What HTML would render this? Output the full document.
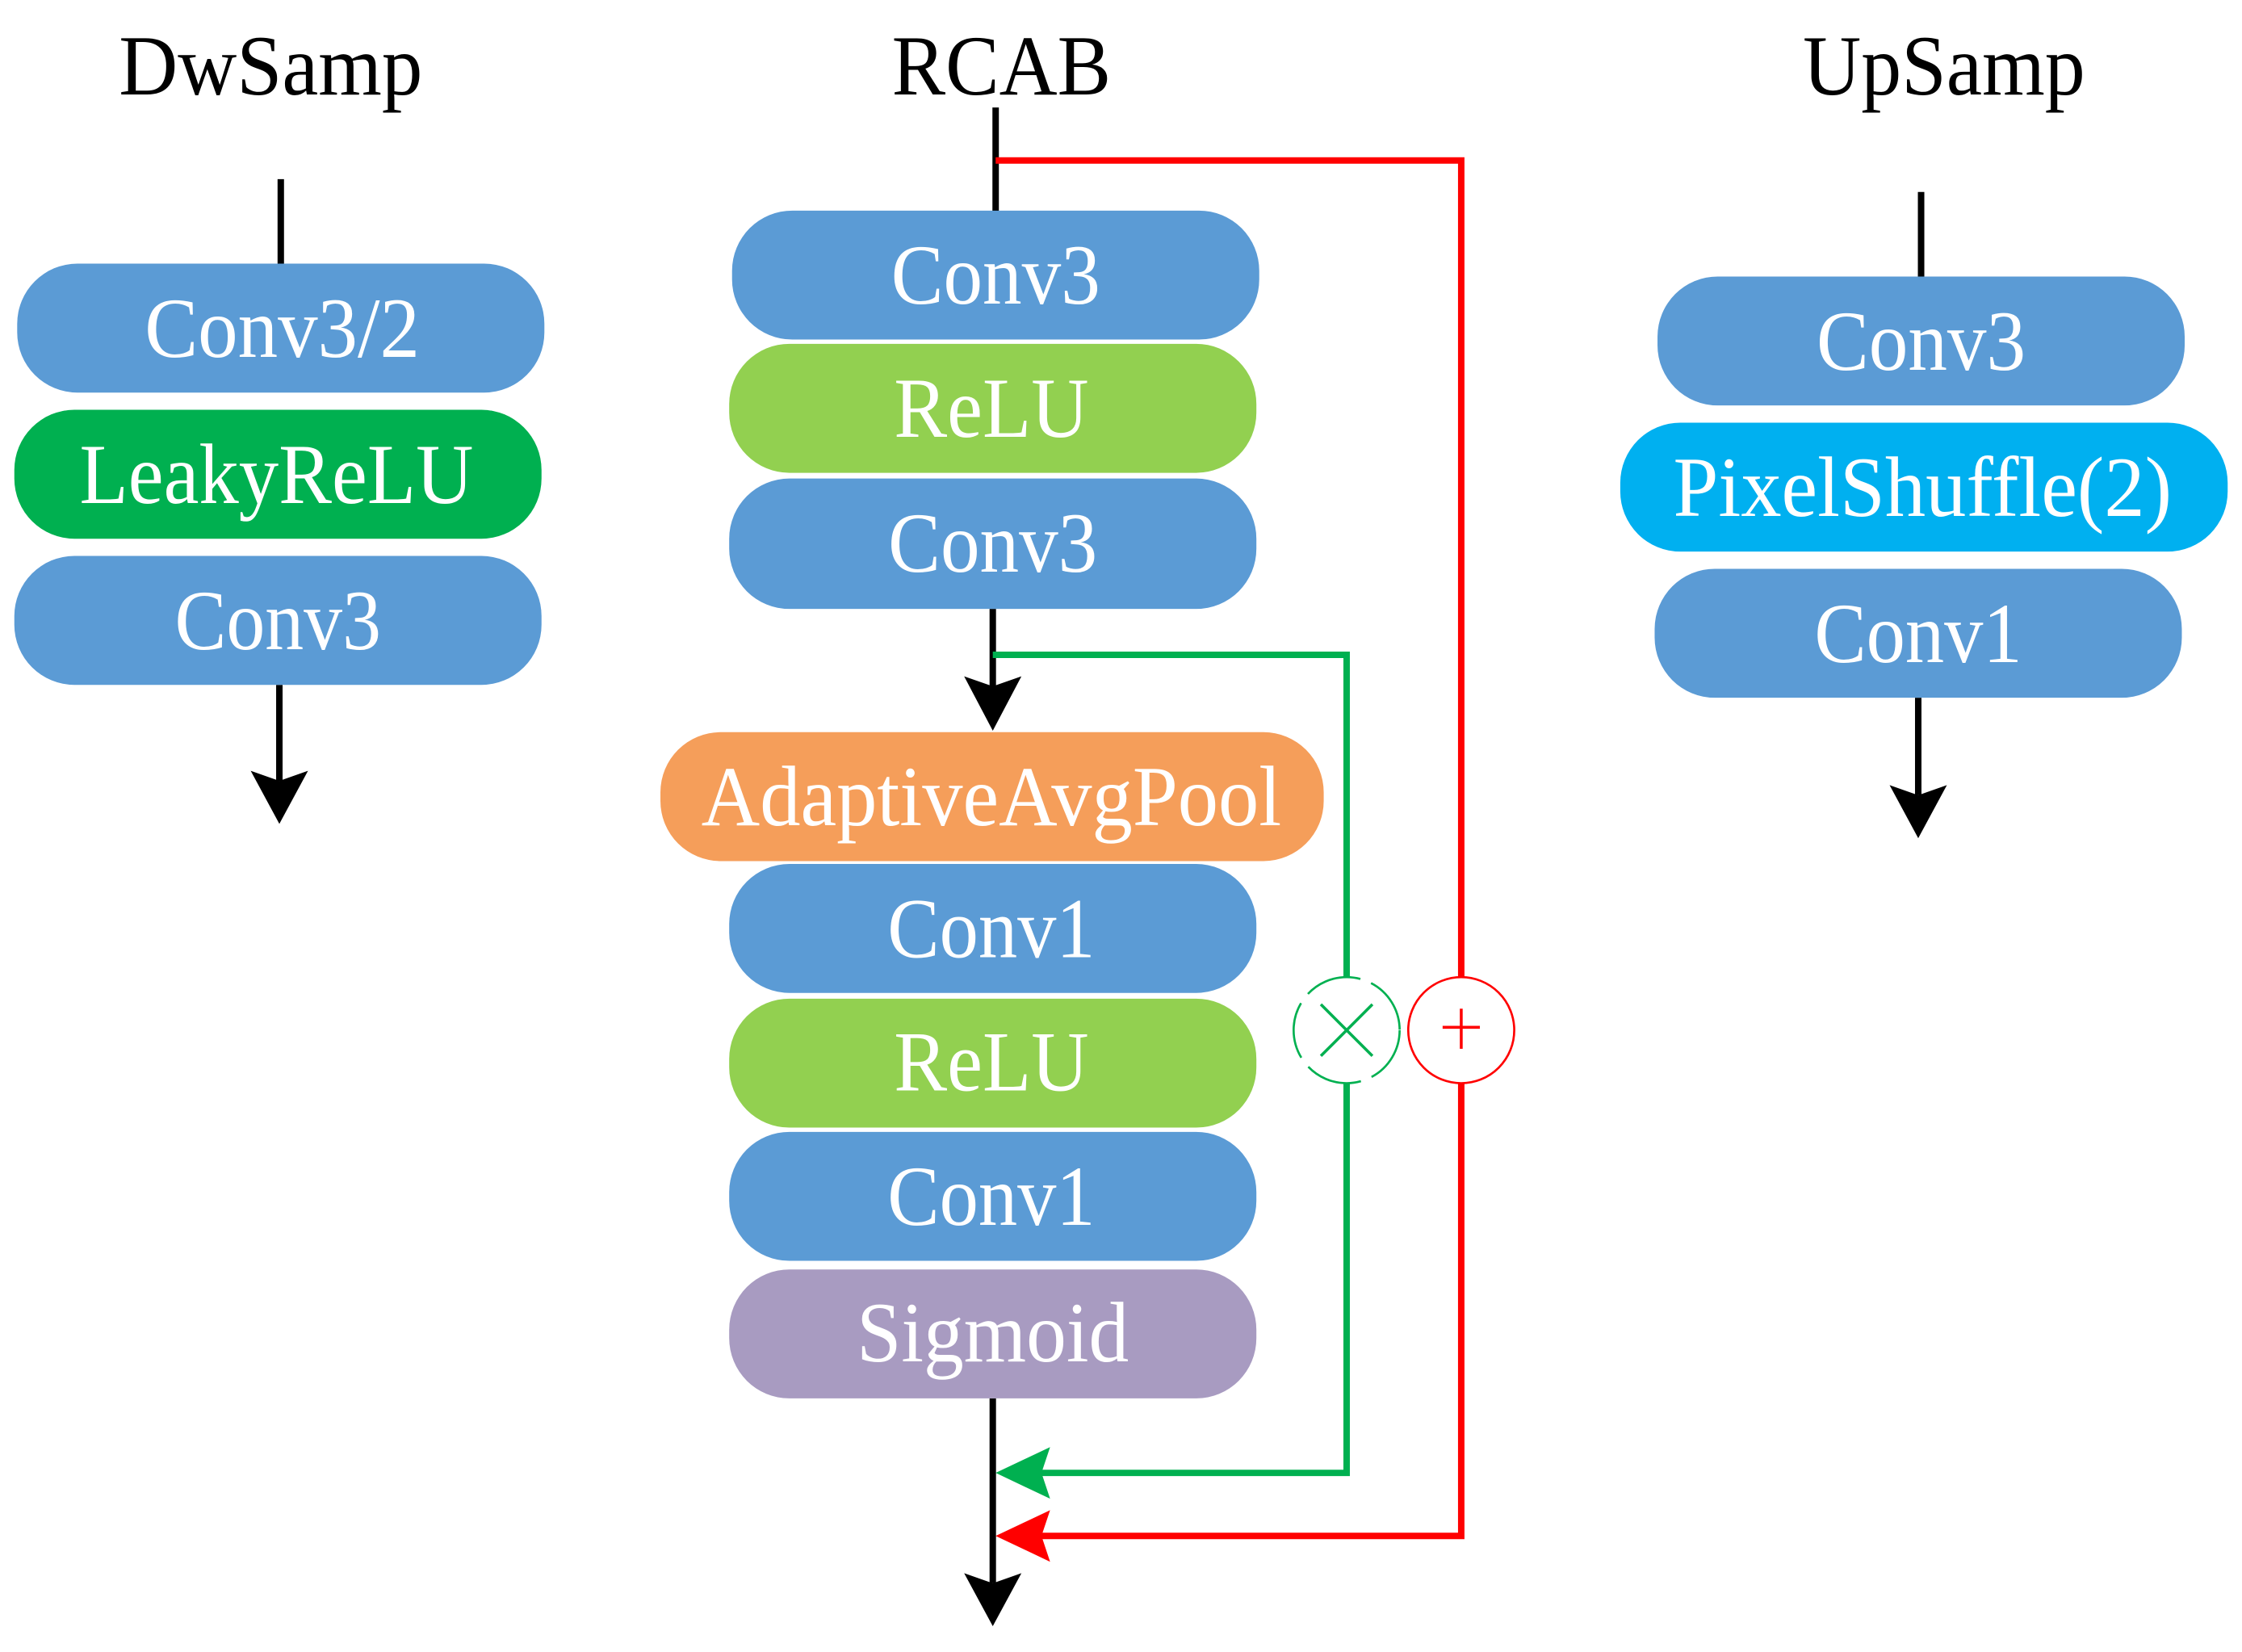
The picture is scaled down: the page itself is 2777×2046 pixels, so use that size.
<!DOCTYPE html>
<html><head><meta charset="utf-8"><style>html,body{margin:0;padding:0;background:#fff}svg{display:block}</style></head><body>
<svg width="2777" height="2046" viewBox="0 0 1565 1153" preserveAspectRatio="none" xmlns="http://www.w3.org/2000/svg" font-family="Liberation Serif, serif">
<rect width="1565" height="1153" fill="#fff"/>
<g font-size="60" fill="#000" text-anchor="middle">
<text x="189" y="66" textLength="212" lengthAdjust="spacingAndGlyphs">DwSamp</text>
<text x="699" y="66" textLength="153" lengthAdjust="spacingAndGlyphs">RCAB</text>
<text x="1357" y="66" textLength="197" lengthAdjust="spacingAndGlyphs">UpSamp</text>
</g>
<g stroke="#000" stroke-width="4.5" fill="none">
<line x1="196" y1="125" x2="196" y2="186"/>
<line x1="195" y1="478" x2="195" y2="545"/>
<line x1="695" y1="75" x2="695" y2="149"/>
<line x1="693" y1="425" x2="693" y2="480"/>
<line x1="693" y1="976" x2="693" y2="1105"/>
<line x1="1341" y1="134" x2="1341" y2="195"/>
<line x1="1339" y1="487" x2="1339" y2="555"/>
</g>
<g stroke="#ff0000" stroke-width="4.5" fill="none">
<polyline points="695,112 1020,112 1020,682"/>
<polyline points="1020,756 1020,1072 725,1072"/>
</g>
<g stroke="#00b050" stroke-width="4.5" fill="none">
<polyline points="693,457 940,457 940,682"/>
<polyline points="940,756 940,1028 725,1028"/>
</g>
<g fill="#000">
<polygon points="175,538 195,575 215,538 195,545"/>
<polygon points="673,472 693,510 713,472 693,479"/>
<polygon points="673,1098 693,1135 713,1098 693,1105"/>
<polygon points="1319,548 1339,585 1359,548 1339,555"/>
</g>
<polygon points="695,1028 733,1010 727,1028 733,1046" fill="#00b050"/>
<polygon points="695,1072 733,1054 727,1072 733,1090" fill="#ff0000"/>
<circle cx="940" cy="719" r="37" fill="#fff" stroke="#00b050" stroke-width="1.5" stroke-dasharray="40 8"/>
<g stroke="#00b050" stroke-width="2"><line x1="922" y1="701" x2="958" y2="737"/><line x1="958" y1="701" x2="922" y2="737"/></g>
<circle cx="1020" cy="719" r="37" fill="#fff" stroke="#ff0000" stroke-width="1.5"/>
<g stroke="#ff0000" stroke-width="2"><line x1="1020" y1="704" x2="1020" y2="732"/><line x1="1007" y1="717" x2="1033" y2="717"/></g>
<g>
<rect x="12" y="184" width="368" height="90" rx="42" fill="#5b9bd5"/>
<rect x="10" y="286" width="368" height="90" rx="42" fill="#00b050"/>
<rect x="10" y="388" width="368" height="90" rx="42" fill="#5b9bd5"/>
<rect x="511" y="147" width="368" height="90" rx="42" fill="#5b9bd5"/>
<rect x="509" y="240" width="368" height="90" rx="42" fill="#92d050"/>
<rect x="509" y="334" width="368" height="91" rx="42" fill="#5b9bd5"/>
<rect x="461" y="511" width="463" height="90" rx="42" fill="#f59e5a"/>
<rect x="509" y="603" width="368" height="90" rx="42" fill="#5b9bd5"/>
<rect x="509" y="697" width="368" height="90" rx="42" fill="#92d050"/>
<rect x="509" y="790" width="368" height="90" rx="42" fill="#5b9bd5"/>
<rect x="509" y="886" width="368" height="90" rx="42" fill="#a89bc1"/>
<rect x="1157" y="193" width="368" height="90" rx="42" fill="#5b9bd5"/>
<rect x="1131" y="295" width="424" height="90" rx="42" fill="#00b0f0"/>
<rect x="1155" y="397" width="368" height="90" rx="42" fill="#5b9bd5"/>
</g>
<g font-size="60" fill="#fff" text-anchor="middle">
<text x="197" y="249" textLength="192" lengthAdjust="spacingAndGlyphs">Conv3/2</text>
<text x="193" y="351" textLength="275" lengthAdjust="spacingAndGlyphs">LeakyReLU</text>
<text x="194" y="453" textLength="144" lengthAdjust="spacingAndGlyphs">Conv3</text>
<text x="695" y="212" textLength="146" lengthAdjust="spacingAndGlyphs">Conv3</text>
<text x="692" y="305" textLength="136" lengthAdjust="spacingAndGlyphs">ReLU</text>
<text x="693" y="399" textLength="146" lengthAdjust="spacingAndGlyphs">Conv3</text>
<text x="692" y="576" textLength="405" lengthAdjust="spacingAndGlyphs">AdaptiveAvgPool</text>
<text x="692" y="668" textLength="145" lengthAdjust="spacingAndGlyphs">Conv1</text>
<text x="692" y="761" textLength="136" lengthAdjust="spacingAndGlyphs">ReLU</text>
<text x="692" y="855" textLength="145" lengthAdjust="spacingAndGlyphs">Conv1</text>
<text x="693" y="950" textLength="190" lengthAdjust="spacingAndGlyphs">Sigmoid</text>
<text x="1341" y="258" textLength="146" lengthAdjust="spacingAndGlyphs">Conv3</text>
<text x="1342" y="360" textLength="348" lengthAdjust="spacingAndGlyphs">PixelShuffle(2)</text>
<text x="1339" y="462" textLength="145" lengthAdjust="spacingAndGlyphs">Conv1</text>
</g>
</svg>
</body></html>
